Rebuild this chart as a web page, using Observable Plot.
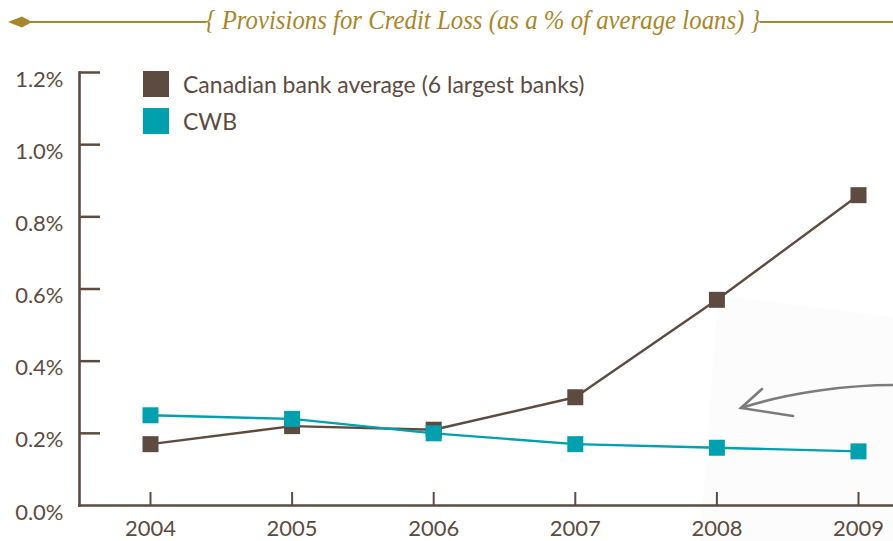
<!DOCTYPE html>
<html>
<head>
<meta charset="utf-8">
<script src="https://cdn.jsdelivr.net/npm/d3@7"></script>
<script src="https://cdn.jsdelivr.net/npm/@observablehq/plot@0.6"></script>
<style>
  body { margin: 0; background: #fff; }
  #wrap { position: relative; width: 893px; height: 541px; overflow: hidden; font-family: Lato, sans-serif; }
  #head { position: absolute; left: 0; top: 0; }
  #deco { position: absolute; left: 0; top: 0; }
  #chart { position: absolute; left: 0; top: 45px; }
  #legend { position: absolute; left: 143px; top: 71px; color: #5d4b42; font-size: 23px; }
  #legend .item { display: flex; align-items: center; height: 26px; margin-bottom: 11px; }
  #legend .sw { width: 26px; height: 26px; margin-right: 14px; }
</style>
</head>
<body>
<div id="wrap">
  <svg id="deco" width="893" height="541"></svg>
  <div id="chart"></div>
  <svg id="head" width="893" height="45"></svg>
  <div id="legend"></div>
</div>
<script>
// Provisions for credit loss, % of average loans
const years = [2004, 2005, 2006, 2007, 2008, 2009];
const canadianAvg = [0.17, 0.22, 0.21, 0.30, 0.57, 0.86];
const cwb = [0.25, 0.24, 0.20, 0.17, 0.16, 0.15];
const yTicks = [0, 0.2, 0.4, 0.6, 0.8, 1.0, 1.2];
const seriesNames = ["Canadian bank average (6 largest banks)", "CWB"];
const seriesColors = ["#5d4b42", "#00a0af"];
const titleText = "{ Provisions for Credit Loss (as a % of average loans) }";

const ink = "#5d4b42";
const gold = "#a8862b";

const rows = [
  ...years.map((year, i) => ({year, value: canadianAvg[i], series: seriesNames[0]})),
  ...years.map((year, i) => ({year, value: cwb[i], series: seriesNames[1]}))
];

const W = 893, H = 496;
const mL = 79, mR = 0, mT = 27, mB = 36;
const frameW = W - mL - mR, frameH = H - mT - mB;

const chart = Plot.plot({
  width: W,
  height: H,
  marginLeft: mL,
  marginRight: mR,
  marginTop: mT,
  marginBottom: mB,
  style: {background: "transparent", fontFamily: "Lato, sans-serif", fontSize: "22px", color: ink},
  x: {domain: [2004, 2009], insetLeft: 71, insetRight: 35},
  y: {domain: [0, 1.2]},
  color: {domain: seriesNames, range: seriesColors},
  marks: [
    Plot.axisY(yTicks, {tickSize: 0, tickPadding: 16, dy: 7, tickFormat: d => d.toFixed(1) + "%", label: null, fill: ink}),
    Plot.axisX(years, {tickSize: 0, tickPadding: 15, tickFormat: d => String(d), label: null, fill: ink}),
    // short inward ticks
    Plot.ruleY(yTicks.filter(d => d > 0), {y: d => d, insetRight: frameW - 21, stroke: ink, strokeWidth: 2.5}),
    Plot.ruleX(years, {x: d => d, insetTop: frameH - 13, stroke: ink, strokeWidth: 2}),
    Plot.frame({anchor: "left", stroke: ink, strokeWidth: 2.6}),
    Plot.frame({anchor: "bottom", stroke: ink, strokeWidth: 2.6}),
    Plot.line(rows, {x: "year", y: "value", z: "series", stroke: "series", strokeWidth: 2.4}),
    Plot.dot(rows, {x: "year", y: "value", fill: "series", symbol: "square", r: 16 / Math.sqrt(Math.PI)})
  ]
});
document.getElementById("chart").appendChild(chart);

// Legend
const legend = d3.select("#legend");
seriesNames.forEach((name, i) => {
  const item = legend.append("div").attr("class", "item");
  item.append("div").attr("class", "sw").style("background", seriesColors[i]);
  item.append("span").text(name);
});

// Title rule with arrowhead end
const head = d3.select("#head");
const title = head.append("text")
  .attr("x", 483).attr("y", 29)
  .attr("text-anchor", "middle")
  .attr("font-family", "'Liberation Serif', serif")
  .attr("font-style", "italic")
  .attr("font-size", 27)
  .attr("textLength", 555)
  .attr("lengthAdjust", "spacingAndGlyphs")
  .attr("fill", gold)
  .text(titleText);
const bb = title.node().getBBox();
head.append("line").attr("x1", 28).attr("x2", bb.x + 1).attr("y1", 22).attr("y2", 22)
  .attr("stroke", gold).attr("stroke-width", 1.8);
head.append("line").attr("x1", bb.x + bb.width - 1).attr("x2", W).attr("y1", 22).attr("y2", 22)
  .attr("stroke", gold).attr("stroke-width", 1.8);
head.append("path").attr("d", "M8,22 L22,16.5 L32,22 L22,27.5 Z").attr("fill", gold);

// Pencil sketch on a sheet of paper behind the lower right
const deco = d3.select("#deco");
deco.append("defs").append("filter").attr("id", "soft")
  .append("feGaussianBlur").attr("stdDeviation", 0.7);
deco.append("path").attr("d", "M718,295 L893,317 L893,541 L700,541 Z").attr("fill", "#fcfcfc");
const pencil = deco.append("g").attr("filter", "url(#soft)").attr("fill", "none")
  .attr("stroke", "#7c7c7c").attr("stroke-linecap", "round").attr("stroke-width", 2.6);
pencil.append("path").attr("d", "M893,385 C850,385 790,392 741,408");
pencil.append("path").attr("d", "M762,389 L741,408 L793,416");
</script>
</body>
</html>
